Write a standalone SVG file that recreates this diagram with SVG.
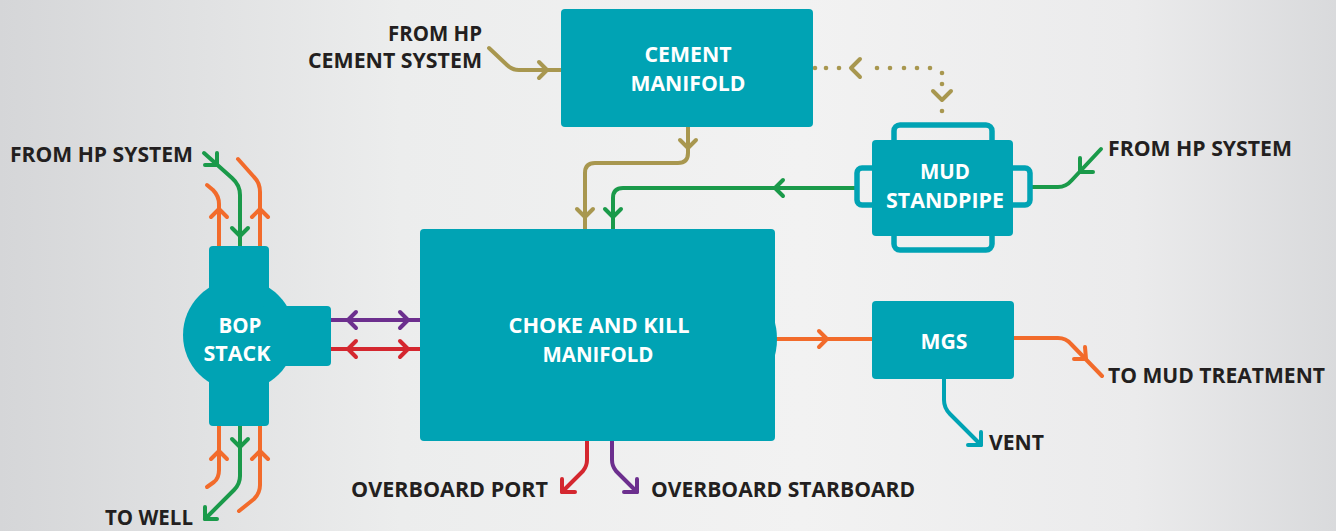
<svg xmlns="http://www.w3.org/2000/svg" width="1336" height="531" viewBox="0 0 1336 531">
<defs>
<linearGradient id="bg" x1="0" y1="0" x2="1" y2="0">
<stop offset="0" stop-color="#d5d6d8"/>
<stop offset="0.3" stop-color="#eceded"/>
<stop offset="0.6" stop-color="#f2f2f2"/>
<stop offset="0.85" stop-color="#ebebec"/>
<stop offset="1" stop-color="#d9dadc"/>
</linearGradient>
<style>
.box{fill:#00a3b4}
.brk{fill:none;stroke:#00a3b4;stroke-width:5.5}
.p{fill:none;stroke-width:4;stroke-linecap:round;stroke-linejoin:round}
.g{stroke:#1a9a4a}
.o{stroke:#f26b2b}
.ol{stroke:#a8974f}
.pu{stroke:#6c2f8e}
.r{stroke:#d4272f}
.t{stroke:#00a3b4}
.dot{fill:#a8974f}
.lbl{font-family:"Open Sans","Liberation Sans",sans-serif;font-weight:700;font-size:22px;fill:#231f20}
.wl{font-family:"Open Sans","Liberation Sans",sans-serif;font-weight:700;font-size:22px;fill:#ffffff;text-anchor:middle}
</style>
</defs>
<rect width="1336" height="531" fill="url(#bg)"/>

<g id="connectors">
<!-- BOP top -->
<path class="p o" d="M219,246 V204 Q219,196 213,190 L207,185"/>
<path class="p o" d="M211,217 L219,209 L227,217"/>
<path class="p g" d="M204,153 L232,178 Q240,185 240,195 V246"/>
<path class="p g" d="M217,153 L217,165 L205,165"/>
<path class="p g" d="M232,228 L240,236 L248,228"/>
<path class="p o" d="M260,246 V192 Q260,183 254,177 L238,159"/>
<path class="p o" d="M252,217 L260,209 L268,217"/>
<!-- BOP bottom -->
<path class="p o" d="M219,426 V470 Q219,478 214,482 L207,487"/>
<path class="p o" d="M211,459 L219,451 L227,459"/>
<path class="p g" d="M240,426 V476 Q240,484 234,490 L205,519"/>
<path class="p g" d="M205,507 L205,519 L217,519"/>
<path class="p g" d="M232,439 L240,447 L248,439"/>
<path class="p o" d="M260,426 V485 Q260,493 254,499 L239,511"/>
<path class="p o" d="M252,459 L260,451 L268,459"/>
<!-- BOP to choke -->
<path class="p pu" d="M331,320 H421"/>
<path class="p pu" d="M356,312 L348,320 L356,328"/>
<path class="p pu" d="M400,312 L408,320 L400,328"/>
<path class="p r" d="M331,349 H421"/>
<path class="p r" d="M356,341 L348,349 L356,357"/>
<path class="p r" d="M400,341 L408,349 L400,357"/>
<!-- cement inflow -->
<path class="p ol" d="M489,48 L507,65 Q512,70 519,70 H561"/>
<path class="p ol" d="M539,62 L547,70 L539,78"/>
<!-- cement to choke -->
<path class="p ol" d="M688,127 V153 Q688,163 678,163 H595 Q585,163 585,173 V229"/>
<path class="p ol" d="M680,140 L688,148 L696,140"/>
<path class="p ol" d="M577,209 L585,217 L593,209"/>
<!-- standpipe to choke -->
<path class="p g" d="M856,188 H623 Q613,188 613,198 V229"/>
<path class="p g" d="M783,180 L775,188 L783,196"/>
<path class="p g" d="M605,209 L613,217 L621,209"/>
<!-- dotted standpipe to cement -->
<circle class="dot" cx="815" cy="68" r="2.3"/>
<circle class="dot" cx="826" cy="68" r="2.3"/>
<circle class="dot" cx="839" cy="68" r="2.3"/>
<circle class="dot" cx="877" cy="68" r="2.3"/>
<circle class="dot" cx="890" cy="68" r="2.3"/>
<circle class="dot" cx="904" cy="68" r="2.3"/>
<circle class="dot" cx="917" cy="68" r="2.3"/>
<circle class="dot" cx="930" cy="68" r="2.3"/>
<circle class="dot" cx="942" cy="73" r="2.3"/>
<circle class="dot" cx="942" cy="84" r="2.3"/>
<circle class="dot" cx="942" cy="111" r="2.3"/>
<path class="p ol" d="M860,59 L851,68 L860,77"/>
<path class="p ol" d="M933,91 L942,100 L951,91"/>
<!-- HP system to standpipe -->
<path class="p g" d="M1030,187 H1058 Q1066,187 1072,180 L1101,149"/>
<path class="p g" d="M1080,158 L1080,172 L1093,172"/>
<!-- choke to MGS -->
<path class="p o" d="M775,339 H872"/>
<path class="p o" d="M819,331 L827,339 L819,347"/>
<!-- MGS to mud treatment -->
<path class="p o" d="M1014,338 H1058 Q1066,338 1071,344 L1102,376"/>
<path class="p o" d="M1085,347 L1086,359 L1074,359"/>
<!-- vent -->
<path class="p t" d="M944,379 V400 Q944,408 950,414 L981,445"/>
<path class="p t" d="M981,432 L981,445 L968,445"/>
<!-- overboard -->
<path class="p r" d="M587,441 V460 Q587,466 583,471 L562,492"/>
<path class="p r" d="M562,479 L562,492 L575,492"/>
<path class="p pu" d="M612,441 V460 Q612,466 616,471 L637,492"/>
<path class="p pu" d="M637,479 L637,492 L624,492"/>
</g>

<g id="bop-stack">
<circle class="box" cx="239" cy="335" r="56"/>
<rect class="box" x="209" y="246" width="60" height="180" rx="4"/>
<rect class="box" x="260" y="306" width="71" height="60" rx="4"/>
<text class="wl" x="240" y="333" textLength="43" lengthAdjust="spacingAndGlyphs">BOP</text>
<text class="wl" x="237" y="361" textLength="67" lengthAdjust="spacingAndGlyphs">STACK</text>
</g>

<g id="cement-manifold">
<rect class="box" x="561" y="9" width="252" height="118" rx="4"/>
<text class="wl" x="688" y="62" textLength="87" lengthAdjust="spacingAndGlyphs">CEMENT</text>
<text class="wl" x="688" y="91" textLength="115" lengthAdjust="spacingAndGlyphs">MANIFOLD</text>
</g>

<g id="choke-kill-manifold">
<rect class="box" x="420" y="229" width="355" height="212" rx="4"/>
<path class="box" d="M773,316 Q781,339 773,362 Z"/>
<text class="wl" x="599" y="333" textLength="181" lengthAdjust="spacingAndGlyphs">CHOKE AND KILL</text>
<text class="wl" x="598" y="362" textLength="111" lengthAdjust="spacingAndGlyphs">MANIFOLD</text>
</g>

<g id="mud-standpipe">
<rect class="brk" x="894" y="125" width="98" height="34" rx="6"/>
<rect class="brk" x="894" y="219" width="98" height="31" rx="6"/>
<rect class="brk" x="857" y="168" width="44" height="37" rx="5"/>
<rect class="brk" x="985" y="168" width="45" height="37" rx="5"/>
<rect class="box" x="872" y="140" width="141" height="96" rx="4"/>
<text class="wl" x="945" y="179" textLength="50" lengthAdjust="spacingAndGlyphs">MUD</text>
<text class="wl" x="945" y="208" textLength="118" lengthAdjust="spacingAndGlyphs">STANDPIPE</text>
</g>

<g id="mgs">
<rect class="box" x="872" y="301" width="142" height="78" rx="4"/>
<text class="wl" x="944" y="349" textLength="47" lengthAdjust="spacingAndGlyphs">MGS</text>
</g>

<g id="labels">
<text class="lbl" x="10" y="162" textLength="183" lengthAdjust="spacingAndGlyphs">FROM HP SYSTEM</text>
<text class="lbl" x="105" y="525" textLength="88" lengthAdjust="spacingAndGlyphs">TO WELL</text>
<text class="lbl" x="388" y="41" textLength="94" lengthAdjust="spacingAndGlyphs">FROM HP</text>
<text class="lbl" x="308" y="68" textLength="174" lengthAdjust="spacingAndGlyphs">CEMENT SYSTEM</text>
<text class="lbl" x="1108" y="156" textLength="184" lengthAdjust="spacingAndGlyphs">FROM HP SYSTEM</text>
<text class="lbl" x="1108" y="383" textLength="217" lengthAdjust="spacingAndGlyphs">TO MUD TREATMENT</text>
<text class="lbl" x="989" y="450" textLength="55" lengthAdjust="spacingAndGlyphs">VENT</text>
<text class="lbl" x="351" y="497" textLength="197" lengthAdjust="spacingAndGlyphs">OVERBOARD PORT</text>
<text class="lbl" x="651" y="497" textLength="264" lengthAdjust="spacingAndGlyphs">OVERBOARD STARBOARD</text>
</g>
</svg>
